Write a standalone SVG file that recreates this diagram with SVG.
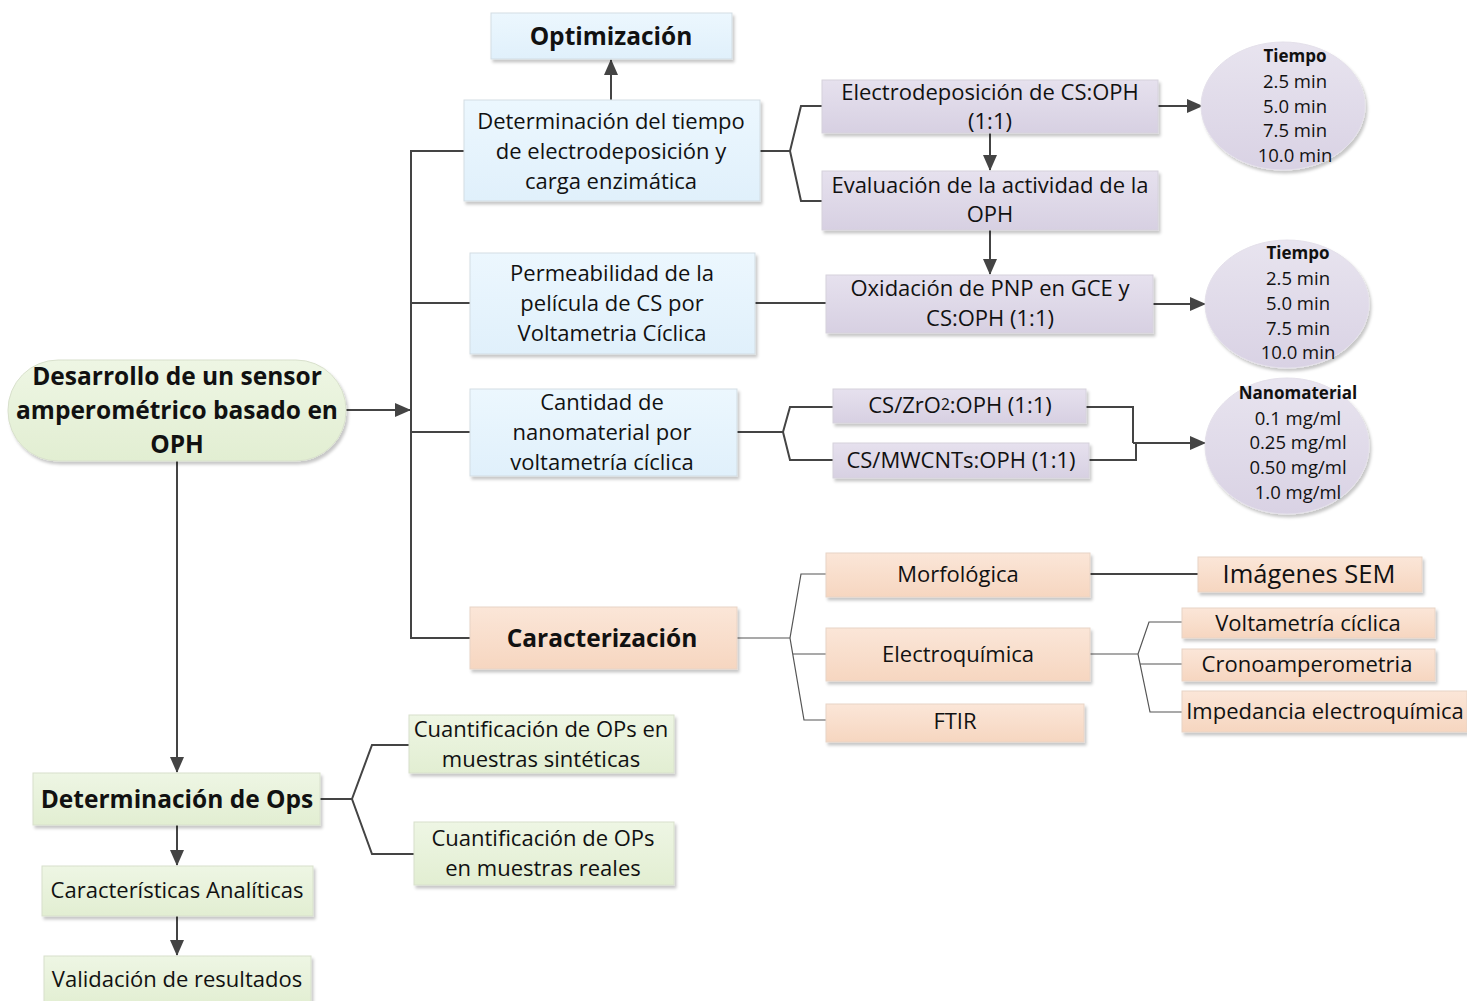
<svg xmlns="http://www.w3.org/2000/svg" width="1467" height="1001" viewBox="0 0 1467 1001">
<style>
text{font-family:"Open Sans",Lato,"Liberation Sans",sans-serif;fill:#111;text-anchor:middle;dominant-baseline:central}
.t{font-size:22px}
.b{font-size:24.5px;font-weight:bold}
.e{font-size:18.5px}
.eb{font-size:17px;font-weight:bold}
.blue{fill:url(#gBlue);stroke:#d3dde3;stroke-width:1}
.green{fill:url(#gGreen);stroke:#d8e0cc;stroke-width:1}
.lav{fill:url(#gLav);stroke:#d6d2dc;stroke-width:1}
.peach{fill:url(#gPeach);stroke:#e8d4c6;stroke-width:1}
.ell{fill:url(#gEll);stroke:#e4e0ea;stroke-width:1}
.sh{filter:url(#sh)}
.c{fill:none;stroke:#444;stroke-width:2}
.thin{fill:none;stroke:#555;stroke-width:1.2}
.a{marker-end:url(#ah)}
</style>
<defs>
<filter id="sh" x="-10%" y="-20%" width="125%" height="150%">
<feDropShadow dx="2" dy="3" stdDeviation="1.6" flood-color="#000" flood-opacity="0.22"/>
</filter>
<linearGradient id="gBlue" x1="0" y1="0" x2="0" y2="1"><stop offset="0" stop-color="#ecf7fe"/><stop offset="1" stop-color="#e0f0fb"/></linearGradient>
<linearGradient id="gGreen" x1="0" y1="0" x2="0" y2="1"><stop offset="0" stop-color="#eef6e4"/><stop offset="1" stop-color="#e2eed2"/></linearGradient>
<linearGradient id="gLav" x1="0" y1="0" x2="0" y2="1"><stop offset="0" stop-color="#e6e1ee"/><stop offset="1" stop-color="#d7d0e2"/></linearGradient>
<linearGradient id="gPeach" x1="0" y1="0" x2="0" y2="1"><stop offset="0" stop-color="#fbe6d8"/><stop offset="1" stop-color="#f6d6c0"/></linearGradient>
<linearGradient id="gEll" x1="0" y1="0" x2="0" y2="1"><stop offset="0" stop-color="#e8e4ef"/><stop offset="1" stop-color="#d9d2e4"/></linearGradient>
<marker id="ah" markerUnits="userSpaceOnUse" markerWidth="16" markerHeight="14" viewBox="0 0 16 14" refX="15" refY="7" orient="auto">
<path d="M0,0 L16,7 L0,14 Z" fill="#444"/>
</marker>
</defs>

<g id="connectors">
<path class="c a" d="M611,100 V60"/>
<path class="c a" d="M346,410 H410"/>
<path class="c" d="M464,151 H411 V638 H470 M411,303 H470 M411,432 H470"/>
<path class="c a" d="M177,461 V772"/>
<path class="c" d="M760,151 H790 M822,106 H801 L790,151 L801,201 H822"/>
<path class="c a" d="M990,133 V170"/>
<path class="c a" d="M990,230 V274"/>
<path class="c a" d="M1158,106 H1202"/>
<path class="c" d="M755,303 H826"/>
<path class="c a" d="M1153,304 H1205"/>
<path class="c" d="M737,432 H783 M833,407 H790 L783,432 L790,460 H833"/>
<path class="c" d="M1086,407 H1133 V443 M1089,460 H1136 V443"/>
<path class="c a" d="M1133,443 H1205"/>
<path class="thin" d="M737,638 H790 M826,574 H801 L790,638 L804,720 H826 M792.6,654 H826"/>
<path class="c" d="M1090,574 H1198"/>
<path class="thin" d="M1090,654 H1138 M1182,622 H1149 L1138,654 L1150,712 H1182 M1139.7,664 H1182"/>
<path class="c" d="M320,799 H352 M409,745 H372 L352,799 L372,854 H414"/>
<path class="c a" d="M177,825 V865"/>
<path class="c a" d="M177,916 V955"/>
</g>

<g id="optimizacion">
<rect class="blue sh" x="491" y="13" width="241" height="46"/>
<text class="b" x="611" y="35">Optimización</text>
</g>

<g id="determinacion-tiempo">
<rect class="blue sh" x="464" y="100" width="296" height="101"/>
<text class="t" x="611" y="120">Determinación del tiempo</text>
<text class="t" x="611" y="150">de electrodeposición y</text>
<text class="t" x="611" y="180">carga enzimática</text>
</g>

<g id="permeabilidad">
<rect class="blue sh" x="470" y="253" width="285" height="101"/>
<text class="t" x="612" y="272">Permeabilidad de la</text>
<text class="t" x="612" y="302">película de CS por</text>
<text class="t" x="612" y="332">Voltametria Cíclica</text>
</g>

<g id="cantidad">
<rect class="blue sh" x="470" y="389" width="267" height="87"/>
<text class="t" x="602" y="401">Cantidad de</text>
<text class="t" x="602" y="431">nanomaterial por</text>
<text class="t" x="602" y="461">voltametría cíclica</text>
</g>

<g id="caracterizacion">
<rect class="peach sh" x="470" y="607" width="267" height="62"/>
<text class="b" x="602" y="637">Caracterización</text>
</g>

<g id="sensor">
<rect class="green sh" x="8" y="360" width="338" height="101" rx="50"/>
<text class="b" x="177" y="375">Desarrollo de un sensor</text>
<text class="b" x="177" y="409">amperométrico basado en</text>
<text class="b" x="177" y="443">OPH</text>
</g>

<g id="electrodeposicion">
<rect class="lav sh" x="822" y="80" width="336" height="53"/>
<text class="t" x="990" y="91">Electrodeposición de CS:OPH</text>
<text class="t" x="990" y="120">(1:1)</text>
</g>

<g id="evaluacion">
<rect class="lav sh" x="822" y="171" width="336" height="59"/>
<text class="t" x="990" y="184">Evaluación de la actividad de la</text>
<text class="t" x="990" y="213">OPH</text>
</g>

<g id="oxidacion">
<rect class="lav sh" x="826" y="275" width="327" height="58"/>
<text class="t" x="990" y="287">Oxidación de PNP en GCE y</text>
<text class="t" x="990" y="317">CS:OPH (1:1)</text>
</g>

<g id="zro2">
<rect class="lav sh" x="833" y="389" width="253" height="34"/>
<text class="t" x="960" y="404">CS/ZrO<tspan font-size="15.5px">2</tspan>:OPH (1:1)</text>
</g>

<g id="mwcnts">
<rect class="lav sh" x="833" y="443" width="256" height="35"/>
<text class="t" x="961" y="459">CS/MWCNTs:OPH (1:1)</text>
</g>

<g id="tiempo1">
<ellipse class="ell sh" cx="1283" cy="106" rx="82" ry="64"/>
<text class="eb" x="1295" y="55">Tiempo</text>
<text class="e" x="1295" y="80">2.5 min</text>
<text class="e" x="1295" y="105">5.0 min</text>
<text class="e" x="1295" y="129">7.5 min</text>
<text class="e" x="1295" y="154">10.0 min</text>
</g>

<g id="tiempo2">
<ellipse class="ell sh" cx="1287" cy="304" rx="82" ry="64"/>
<text class="eb" x="1298" y="252">Tiempo</text>
<text class="e" x="1298" y="277">2.5 min</text>
<text class="e" x="1298" y="302">5.0 min</text>
<text class="e" x="1298" y="327">7.5 min</text>
<text class="e" x="1298" y="351">10.0 min</text>
</g>

<g id="nanomaterial">
<ellipse class="ell sh" cx="1287" cy="446" rx="82" ry="68"/>
<text class="eb" x="1298" y="392">Nanomaterial</text>
<text class="e" x="1298" y="417">0.1 mg/ml</text>
<text class="e" x="1298" y="441">0.25 mg/ml</text>
<text class="e" x="1298" y="466">0.50 mg/ml</text>
<text class="e" x="1298" y="491">1.0 mg/ml</text>
</g>

<g id="morfologica">
<rect class="peach sh" x="826" y="553" width="264" height="44"/>
<text class="t" x="958" y="573">Morfológica</text>
</g>

<g id="electroquimica">
<rect class="peach sh" x="826" y="628" width="264" height="53"/>
<text class="t" x="958" y="653">Electroquímica</text>
</g>

<g id="ftir">
<rect class="peach sh" x="826" y="704" width="258" height="38"/>
<text class="t" x="955" y="720">FTIR</text>
</g>

<g id="sem">
<rect class="peach sh" x="1198" y="557" width="224" height="35"/>
<text x="1309" y="573" style="font-size:25.5px">Imágenes SEM</text>
</g>

<g id="voltametria">
<rect class="peach sh" x="1182" y="608" width="253" height="30"/>
<text class="t" x="1308" y="622">Voltametría cíclica</text>
</g>

<g id="crono">
<rect class="peach sh" x="1182" y="649" width="253" height="32"/>
<text class="t" x="1307" y="663">Cronoamperometria</text>
</g>

<g id="impedancia">
<rect class="peach sh" x="1182" y="691" width="285" height="41"/>
<text class="t" x="1325" y="710">Impedancia electroquímica</text>
</g>

<g id="det-ops">
<rect class="green sh" x="33" y="773" width="287" height="52"/>
<text class="b" x="177" y="798">Determinación de Ops</text>
</g>

<g id="cuant-sint">
<rect class="green sh" x="409" y="715" width="265" height="58"/>
<text class="t" x="541" y="728">Cuantificación de OPs en</text>
<text class="t" x="541" y="758">muestras sintéticas</text>
</g>

<g id="cuant-real">
<rect class="green sh" x="414" y="822" width="260" height="63"/>
<text class="t" x="543" y="837">Cuantificación de OPs</text>
<text class="t" x="543" y="867">en muestras reales</text>
</g>

<g id="caracteristicas">
<rect class="green sh" x="42" y="866" width="271" height="50"/>
<text class="t" x="177" y="889">Características Analíticas</text>
</g>

<g id="validacion">
<rect class="green sh" x="44" y="956" width="267" height="50"/>
<text class="t" x="177" y="978">Validación de resultados</text>
</g>
</svg>
